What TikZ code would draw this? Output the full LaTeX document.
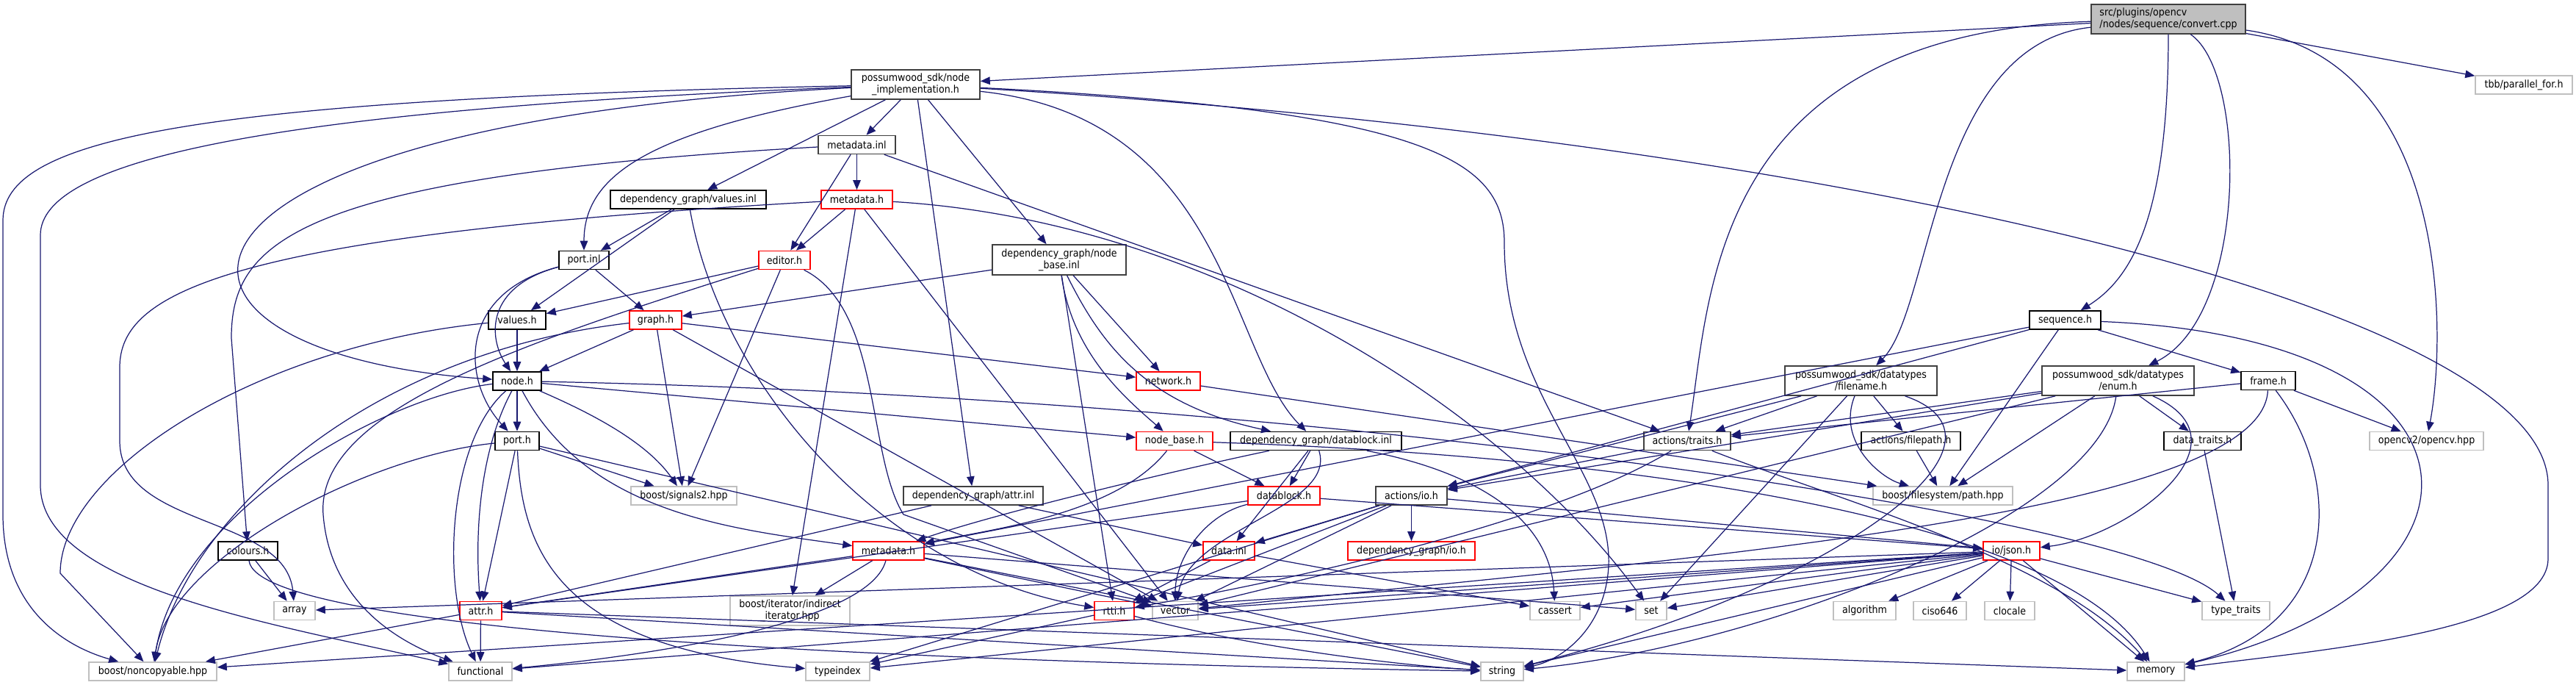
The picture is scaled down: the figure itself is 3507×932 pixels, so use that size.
\documentclass[tikz,border=0pt]{standalone}
\usepackage{fontspec}
\setmainfont{DejaVu Sans}[FakeStretch=0.9]
\usetikzlibrary{arrows.meta}
\definecolor{EdgeBlue}{HTML}{191970}
\definecolor{SysGray}{HTML}{BFBFBF}
\definecolor{Grey25}{HTML}{404040}
\definecolor{RootFill}{HTML}{BFBFBF}

\begin{document}
\begin{tikzpicture}[x=0.02cm,y=-0.02cm,
    hdr/.style={draw=black,fill=white,line width=0.9pt,inner sep=0pt,
      minimum height=0.5cm,font=\fontsize{8}{9}\selectfont},
    hdrg/.style={hdr,draw=Grey25},
    trunc/.style={hdr,draw=red},
    sys/.style={hdr,draw=SysGray},
    dep/.style={-{Triangle[length=2.6mm,width=2.1mm]},draw=EdgeBlue,line width=0.7pt}
  ]
  \useasboundingbox (0,0) rectangle (3507,932);

  % row 0 / 1
  \node[hdrg,fill=RootFill,align=left,minimum width=4.2cm,minimum height=0.8cm] (root) at (2952,26) {src/plugins/opencv\\/nodes/sequence/convert.cpp};
  \node[hdrg,align=center,minimum width=3.5cm,minimum height=0.8cm] (nimpl) at (1246.5,115) {possumwood\_sdk/node\\\_implementation.h};
  \node[sys,minimum width=2.64cm] (tbb) at (3436,115.5) {tbb/parallel\_for.h};
  \node[hdrg,minimum width=2.1cm] (mdinl) at (1166.5,197) {metadata.inl};
  \node[hdr,minimum width=4.24cm] (valinl) at (937,271.5) {dependency\_graph/values.inl};
  \node[trunc,minimum width=1.94cm] (mdhA) at (1166.5,271.5) {metadata.h};
  \node[hdrg,align=center,minimum width=3.64cm,minimum height=0.82cm] (nbinl) at (1442,353.5) {dependency\_graph/node\\\_base.inl};
  \node[hdr,minimum width=1.36cm] (portinl) at (795,354) {port.inl};
  \node[trunc,minimum width=1.4cm] (editor) at (1068,354) {editor.h};
  \node[hdr,minimum width=1.56cm] (valh) at (704,435.5) {values.h};
  \node[trunc,minimum width=1.42cm] (graph) at (892.5,435.5) {graph.h};
  \node[hdr,minimum width=1.94cm] (seq) at (2811.5,435.5) {sequence.h};
  \node[hdr,minimum width=1.32cm] (nodeh) at (704,518.5) {node.h};
  \node[trunc,minimum width=1.74cm] (network) at (1590.5,518.5) {network.h};
  \node[hdrg,align=center,minimum width=4.14cm,minimum height=0.8cm] (filename) at (2533.5,518) {possumwood\_sdk/datatypes\\/filename.h};
  \node[hdrg,align=center,minimum width=4.14cm,minimum height=0.8cm] (enum) at (2883.5,518) {possumwood\_sdk/datatypes\\/enum.h};
  \node[hdr,minimum width=1.48cm] (frame) at (3088,518) {frame.h};
  \node[hdr,minimum width=1.2cm] (porth) at (704,600) {port.h};
  \node[trunc,minimum width=2.08cm] (nbh) at (1599,600) {node\_base.h};
  \node[hdr,minimum width=4.66cm] (dbinl) at (1791.5,600) {dependency\_graph/datablock.inl};
  \node[hdrg,minimum width=2.36cm] (traits) at (2297,600) {actions/traits.h};
  \node[hdr,minimum width=2.7cm] (filepath) at (2601.5,600) {actions/filepath.h};
  \node[hdr,minimum width=2.1cm] (dtraits) at (2998.5,600) {data\_traits.h};
  \node[sys,minimum width=3.1cm] (opencv) at (3303.5,600) {opencv2/opencv.hpp};
  \node[sys,minimum width=2.88cm] (signals) at (931,674.5) {boost/signals2.hpp};
  \node[hdrg,minimum width=3.8cm] (attrinl) at (1325,674.5) {dependency\_graph/attr.inl};
  \node[trunc,minimum width=1.96cm] (dbh) at (1748,674.5) {datablock.h};
  \node[hdrg,minimum width=1.94cm] (ioh) at (1921.5,674.5) {actions/io.h};
  \node[sys,minimum width=3.8cm] (path) at (2645,674.5) {boost/filesystem/path.hpp};
  \node[hdr,minimum width=1.62cm] (colours) at (337.5,749.5) {colours.h};
  \node[trunc,minimum width=1.94cm] (mdhB) at (1209.5,749.5) {metadata.h};
  \node[trunc,minimum width=1.4cm] (datainl) at (1673,749.5) {data.inl};
  \node[trunc,minimum width=3.46cm] (dgio) at (1921.5,749.5) {dependency\_graph/io.h};
  \node[trunc,minimum width=1.54cm] (json) at (2738.5,749.5) {io/json.h};
  % leaves
  \node[sys,minimum width=1.12cm] (array) at (401,831) {array};
  \node[trunc,minimum width=1.14cm] (attrh) at (654.5,831) {attr.h};
  \node[sys,align=center,minimum width=3.26cm,minimum height=0.8cm] (indirect) at (1075.5,831) {boost/iterator/indirect\\\_iterator.hpp};
  \node[trunc,minimum width=1.08cm] (rtti) at (1517,831) {rtti.h};
  \node[sys,minimum width=1.24cm] (vector) at (1600,831) {vector};
  \node[sys,minimum width=1.36cm] (cassert) at (2117,831) {cassert};
  \node[sys,minimum width=0.84cm] (set) at (2248,831) {set};
  \node[sys,minimum width=1.7cm] (algorithm) at (2538.5,831) {algorithm};
  \node[sys,minimum width=1.44cm] (ciso) at (2641,831) {ciso646};
  \node[sys,minimum width=1.36cm] (clocale) at (2736,831) {clocale};
  \node[sys,minimum width=1.84cm] (typetraits) at (3044,831) {type\_traits};
  \node[sys,minimum width=3.48cm] (noncopy) at (208,913.5) {boost/noncopyable.hpp};
  \node[sys,minimum width=1.72cm] (functional) at (654,913.5) {functional};
  \node[sys,minimum width=1.74cm] (typeindex) at (1140.5,913.5) {typeindex};
  \node[sys,minimum width=1.16cm] (string) at (2045,913.5) {string};
  \node[sys,minimum width=1.56cm] (memory) at (2935,913.5) {memory};

  % includes of convert.cpp
  \draw[dep] (root) -- (nimpl);
  \draw[dep] (root) -- (tbb);
  \draw[dep] (root) .. controls (2330,45) and (2328,400) .. (traits);
  \draw[dep] (root) .. controls (2631,60) and (2631,420) .. (filename);
  \draw[dep] (root) .. controls (2952,300) and (2900,380) .. (seq);
  \draw[dep] (root) .. controls (3060,100) and (3060,430) .. (enum);
  \draw[dep] (root) .. controls (3332,80) and (3332,450) .. (opencv);

  % node_implementation.h
  \draw[dep] (nimpl) -- (mdinl);
  \draw[dep] (nimpl) -- (valinl);
  \draw[dep] (nimpl) -- (nbinl);
  \draw[dep] (nimpl) -- (attrinl);
  \draw[dep] (nimpl) .. controls (880,180) and (795,240) .. (portinl);
  \draw[dep] (nimpl) .. controls (1671,160) and (1671,480) .. (dbinl);
  \draw[dep] (nimpl) .. controls (150,170) and (150,480) .. (nodeh);
  \draw[dep] (nimpl) .. controls (250,135) and (4,190) .. (4,300) -- (4,700)
    .. controls (4,830) and (90,880) .. (noncopy);
  \draw[dep] (nimpl) .. controls (350,150) and (55,220) .. (55,320) -- (55,660)
    .. controls (55,800) and (380,850) .. (functional);
  \draw[dep] (nimpl) .. controls (2500,190) and (3469,420) .. (3469,660) -- (3469,760)
    .. controls (3469,860) and (3150,885) .. (memory);
  \draw[dep] (nimpl) .. controls (1950,150) and (2048,220) .. (2048,330)
    .. controls (2048,540) and (2195,640) .. (2190,770)
    .. controls (2185,860) and (2120,900) .. (string);

  % metadata.inl, metadata.h, editor.h
  \draw[dep] (mdinl) -- (mdhA);
  \draw[dep] (mdinl) -- (editor);
  \draw[dep] (mdinl) -- (traits);
  \draw[dep] (mdinl) .. controls (400,240) and (315,330) .. (315,460) -- (colours);
  \draw[dep] (mdhA) -- (editor);
  \draw[dep] (mdhA) -- (indirect);
  \draw[dep] (mdhA) -- (vector);
  \draw[dep] (mdhA) .. controls (300,320) and (163,400) .. (163,500) -- (163,600)
    .. controls (163,720) and (390,700) .. (array);
  \draw[dep] (mdhA) .. controls (1650,300) and (2050,560) .. (set);
  \draw[dep] (editor) -- (valh);
  \draw[dep] (editor) -- (signals);
  \draw[dep] (editor) .. controls (700,470) and (430,560) .. (440,700)
    .. controls (450,830) and (560,880) .. (functional);
  \draw[dep] (editor) .. controls (1200,420) and (1180,620) .. (1230,700) -- (vector);

  % values.inl, port.inl, values.h, graph.h
  \draw[dep] (valinl) -- (valh);
  \draw[dep] (valinl) -- (portinl);
  \draw[dep] (valinl) .. controls (980,520) and (1200,780) .. (rtti);
  \draw[dep] (portinl) -- (graph);
  \draw[dep] (portinl) .. controls (660,390) and (665,460) .. (nodeh);
  \draw[dep] (portinl) .. controls (620,400) and (630,520) .. (porth);
  \draw[dep] (valh) -- (nodeh);
  \draw[dep] (valh) .. controls (350,470) and (82,640) .. (82,780) -- (noncopy);
  \draw[dep] (graph) -- (nodeh);
  \draw[dep] (graph) -- (network);
  \draw[dep] (graph) -- (signals);
  \draw[dep] (graph) -- (vector);
  \draw[dep] (graph) .. controls (500,480) and (260,700) .. (noncopy);

  % node_base.inl, network.h
  \draw[dep] (nbinl) -- (graph);
  \draw[dep] (nbinl) -- (rtti);
  \draw[dep] (nbinl) -- (network);
  \draw[dep] (nbinl) .. controls (1460,480) and (1530,540) .. (nbh);
  \draw[dep] (nbinl) .. controls (1500,470) and (1560,550) .. (dbinl);
  \draw[dep] (network) -- (path);

  % node.h, port.h, attr.h
  \draw[dep] (nodeh) -- (porth);
  \draw[dep] (nodeh) -- (nbh);
  \draw[dep] (nodeh) .. controls (660,600) and (645,700) .. (attrh);
  \draw[dep] (nodeh) .. controls (610,600) and (600,800) .. (functional);
  \draw[dep] (nodeh) .. controls (800,560) and (880,600) .. (signals);
  \draw[dep] (nodeh) .. controls (800,700) and (1000,720) .. (mdhB);
  \draw[dep] (nodeh) .. controls (1800,540) and (2900,700) .. (typetraits);
  \draw[dep] (nodeh) .. controls (520,540) and (240,700) .. (noncopy);
  \draw[dep] (porth) -- (attrh);
  \draw[dep] (porth) -- (signals);
  \draw[dep] (porth) -- (string);
  \draw[dep] (porth) .. controls (500,620) and (230,760) .. (noncopy);
  \draw[dep] (porth) .. controls (710,750) and (760,880) .. (typeindex);
  \draw[dep] (attrh) -- (functional);
  \draw[dep] (attrh) -- (noncopy);
  \draw[dep] (attrh) -- (string);
  \draw[dep] (attrh) -- (memory);

  % metadata.h (second), attr.inl, node_base.h, datablock
  \draw[dep] (mdhB) -- (attrh);
  \draw[dep] (mdhB) -- (indirect);
  \draw[dep] (mdhB) -- (vector);
  \draw[dep] (mdhB) -- (string);
  \draw[dep] (mdhB) -- (set);
  \draw[dep] (mdhB) .. controls (1180,860) and (800,900) .. (functional);
  \draw[dep] (attrinl) -- (attrh);
  \draw[dep] (attrinl) -- (datainl);
  \draw[dep] (nbh) -- (dbh);
  \draw[dep] (nbh) .. controls (1520,700) and (1350,720) .. (mdhB);
  \draw[dep] (nbh) .. controls (2200,620) and (2800,700) .. (memory);
  \draw[dep] (dbinl) -- (dbh);
  \draw[dep] (dbinl) -- (datainl);
  \draw[dep] (dbinl) .. controls (2000,640) and (2110,700) .. (cassert);
  \draw[dep] (dbinl) .. controls (1820,690) and (1620,720) .. (vector);
  \draw[dep] (dbinl) .. controls (1600,640) and (1350,700) .. (mdhB);
  \draw[dep] (dbh) -- (json);
  \draw[dep] (dbh) -- (attrh);
  \draw[dep] (dbh) .. controls (1640,700) and (1600,760) .. (vector);
  \draw[dep] (datainl) -- (rtti);
  \draw[dep] (datainl) -- (cassert);

  % actions
  \draw[dep] (ioh) -- (dgio);
  \draw[dep] (ioh) -- (json);
  \draw[dep] (ioh) -- (datainl);
  \draw[dep] (ioh) -- (rtti);
  \draw[dep] (ioh) -- (vector);
  \draw[dep] (ioh) -- (typeindex);
  \draw[dep] (traits) -- (ioh);
  \draw[dep] (traits) .. controls (2100,720) and (1700,800) .. (rtti);
  \draw[dep] (traits) .. controls (2500,680) and (2800,760) .. (memory);
  \draw[dep] (filepath) -- (path);

  % datatypes, sequence, frame
  \draw[dep] (filename) -- (traits);
  \draw[dep] (filename) -- (ioh);
  \draw[dep] (filename) -- (filepath);
  \draw[dep] (filename) -- (set);
  \draw[dep] (filename) .. controls (2500,600) and (2560,650) .. (path);
  \draw[dep] (filename) .. controls (2770,600) and (2500,800) .. (string);
  \draw[dep] (enum) -- (traits);
  \draw[dep] (enum) -- (ioh);
  \draw[dep] (enum) -- (path);
  \draw[dep] (enum) -- (dtraits);
  \draw[dep] (enum) -- (vector);
  \draw[dep] (enum) .. controls (3070,600) and (2900,730) .. (json);
  \draw[dep] (enum) .. controls (2860,700) and (2400,880) .. (string);
  \draw[dep] (frame) -- (traits);
  \draw[dep] (frame) -- (opencv);
  \draw[dep] (frame) .. controls (3190,650) and (3190,850) .. (memory);
  \draw[dep] (frame) .. controls (3080,700) and (2300,760) .. (vector);
  \draw[dep] (seq) -- (frame);
  \draw[dep] (seq) -- (path);
  \draw[dep] (seq) -- (ioh);
  \draw[dep] (seq) -- (mdhB);
  \draw[dep] (seq) .. controls (3419,460) and (3419,800) .. (memory);
  \draw[dep] (dtraits) -- (typetraits);

  % io/json.h, rtti.h, colours.h
  \draw[dep] (json) -- (algorithm);
  \draw[dep] (json) -- (ciso);
  \draw[dep] (json) -- (clocale);
  \draw[dep] (json) -- (memory);
  \draw[dep] (json) -- (typetraits);
  \draw[dep] (json) -- (string);
  \draw[dep] (json) -- (set);
  \draw[dep] (json) -- (cassert);
  \draw[dep] (json) -- (vector);
  \draw[dep] (json) -- (array);
  \draw[dep] (json) -- (functional);
  \draw[dep] (json) -- (typeindex);
  \draw[dep] (json) -- (noncopy);
  \draw[dep] (rtti) -- (typeindex);
  \draw[dep] (rtti) .. controls (1700,880) and (1900,905) .. (string);
  \draw[dep] (colours) -- (array);
  \draw[dep] (colours) .. controls (350,860) and (1200,900) .. (string);
\end{tikzpicture}
\end{document}
